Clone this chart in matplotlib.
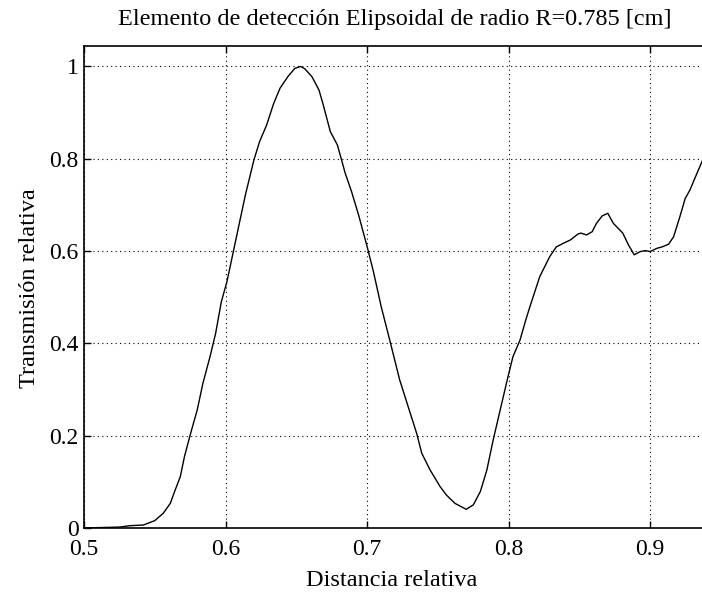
import matplotlib
matplotlib.use("Agg")
import matplotlib.pyplot as plt
import numpy as np

# curve
distancia = [0.500, 0.525, 0.5325, 0.542, 0.550, 0.556, 0.561, 0.564, 0.568, 0.571,
             0.575, 0.580, 0.584, 0.589, 0.593, 0.597, 0.601, 0.6055, 0.610, 0.614,
             0.620, 0.624, 0.629, 0.634, 0.6385, 0.644, 0.649, 0.653, 0.656, 0.661,
             0.666, 0.669, 0.674, 0.679, 0.682, 0.6845, 0.689, 0.694, 0.700, 0.7045,
             0.710, 0.716, 0.723, 0.729, 0.735, 0.7386, 0.7445, 0.7516, 0.756, 0.762,
             0.770, 0.775, 0.780, 0.7846, 0.789, 0.794, 0.799, 0.803, 0.808, 0.812,
             0.815, 0.822, 0.829, 0.8336, 0.8387, 0.8435, 0.849, 0.851, 0.855, 0.859,
             0.862, 0.866, 0.870, 0.874, 0.8806, 0.8847, 0.8887, 0.893, 0.8965, 0.900,
             0.9047, 0.9083, 0.913, 0.9165, 0.921, 0.9247, 0.928, 0.931, 0.937]
transmision = [0.0, 0.002, 0.005, 0.0065, 0.016, 0.032, 0.0535, 0.079, 0.111, 0.155,
               0.2015, 0.256, 0.3135, 0.371, 0.422, 0.49, 0.534, 0.599, 0.664, 0.7215,
               0.797, 0.837, 0.873, 0.92, 0.953, 0.978, 0.996, 1.0, 0.995, 0.978,
               0.949, 0.917, 0.859, 0.83, 0.797, 0.769, 0.729, 0.678, 0.61, 0.555,
               0.479, 0.407, 0.321, 0.263, 0.205, 0.162, 0.1257, 0.0895, 0.0715, 0.0535,
               0.0405, 0.05, 0.079, 0.1257, 0.19, 0.2557, 0.321, 0.371, 0.407, 0.45,
               0.4795, 0.545, 0.588, 0.609, 0.617, 0.624, 0.637, 0.639, 0.635, 0.642,
               0.66, 0.676, 0.682, 0.66, 0.639, 0.613, 0.592, 0.599, 0.601, 0.599,
               0.606, 0.609, 0.615, 0.631, 0.675, 0.714, 0.732, 0.754, 0.797]

xticks = [0.5, 0.6, 0.7, 0.8, 0.9]
xlabels = ["0.5", "0.6", "0.7", "0.8", "0.9"]
yticks = [0, 0.2, 0.4, 0.6, 0.8, 1.0]
ylabels = ["0", "0.2", "0.4", "0.6", "0.8", "1"]

plt.rcParams['font.family'] = ['Liberation Serif', 'DejaVu Serif']

W, H = 702, 603
fig = plt.figure(figsize=(W / 100, H / 100), dpi=100)
fig.patch.set_facecolor('white')

# axes in pixel terms: left 84, top 46, bottom 528, right runs past the edge
left, top, bottom, right = 84, 46, 528, 721
ax = fig.add_axes([left / W, (H - bottom) / H, (right - left) / W, (bottom - top) / H])

ax.plot(distancia, transmision, color='black', linewidth=1.0)

ax.set_xlim(0.5, 0.95)
ax.set_ylim(0, 1.0444)
ax.set_xticks(xticks)
ax.set_xticklabels(xlabels)
ax.set_yticks(yticks)
ax.set_yticklabels(ylabels)

ax.grid(True, color='black', linestyle=(0, (1, 3)), linewidth=0.8)
ax.tick_params(direction='in', length=5, width=1, top=True, right=False,
               labelsize=17, colors='black')
ax.tick_params(axis='x', pad=8)
ax.tick_params(axis='y', pad=4)
for s in ax.spines.values():
    s.set_linewidth(1.2)
ax.spines['right'].set_visible(False)

fig.text(395 / W, 1 - 20 / H, "Elemento de detección Elipsoidal de radio R=0.785 [cm]",
         ha='center', va='center', fontsize=17.5)
fig.text(392 / W, 1 - 580 / H, "Distancia relativa", ha='center', va='center', fontsize=17.5)
fig.text(30 / W, 1 - 288 / H, "Transmisión relativa", ha='center', va='center',
         rotation=90, fontsize=17.5)

fig.savefig('out.png', dpi=100)
